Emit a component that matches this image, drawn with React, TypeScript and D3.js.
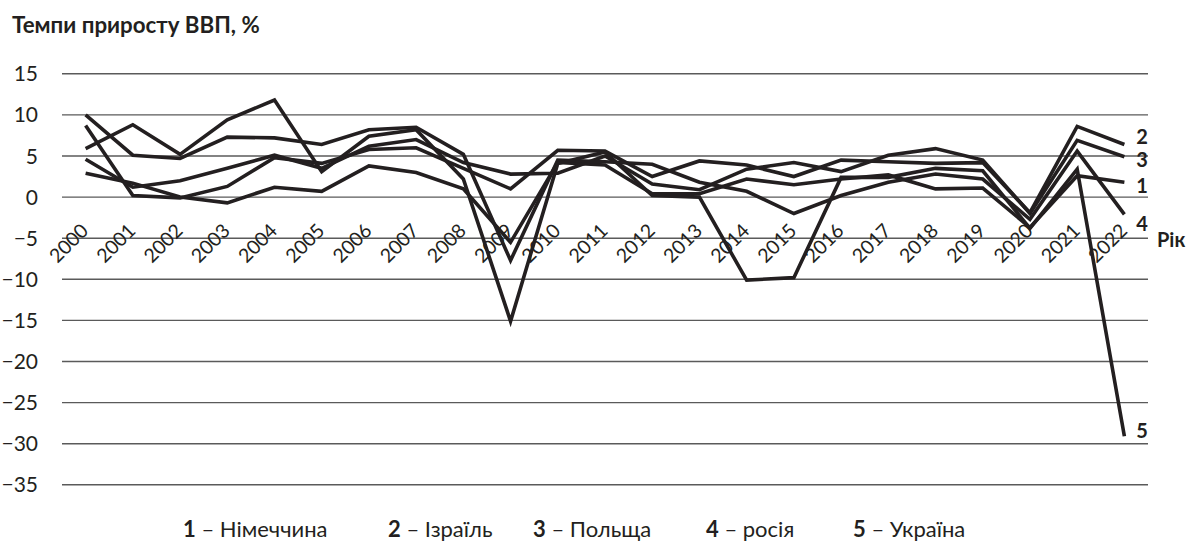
import React from "react";
import * as d3 from "d3";

const years = ["2000","2001","2002","2003","2004","2005","2006","2007","2008","2009","2010","2011","2012","2013","2014","2015","2016","2017","2018","2019","2020","2021","2022"];
const germany = [2.9,1.7,0.0,-0.7,1.2,0.7,3.8,3.0,1.0,-5.5,4.2,3.9,0.4,0.4,2.2,1.5,2.2,2.7,1.0,1.1,-3.7,2.6,1.8];
const israel = [8.7,0.2,-0.1,1.3,4.8,4.1,5.8,6.0,3.5,1.0,5.7,5.6,2.5,4.4,3.9,2.5,4.5,4.3,4.1,4.2,-1.9,8.6,6.4];
const poland = [4.6,1.2,2.0,3.5,5.1,3.5,6.2,7.0,4.2,2.8,2.9,5.0,1.6,0.9,3.4,4.2,3.1,5.1,5.9,4.5,-2.0,6.9,4.9];
const russia = [10.0,5.1,4.7,7.3,7.2,6.4,8.2,8.5,5.2,-7.7,4.5,4.3,4.0,1.8,0.7,-2.0,0.2,1.8,2.8,2.2,-2.7,5.6,-2.1];
const ukraine = [5.9,8.8,5.2,9.4,11.8,3.1,7.4,8.2,2.2,-15.1,4.1,5.5,0.2,0.0,-10.1,-9.8,2.4,2.4,3.5,3.2,-3.8,3.4,-29.1];
const yTicks = [15,10,5,0,-5,-10,-15,-20,-25,-30,-35];
const seriesNums = ["1","2","3","4","5"];
const seriesNames = ["Німеччина","Ізраїль","Польща","росія","Україна"];
const title = "Темпи приросту ВВП, %";
const xAxisTitle = "Рік";

const W = 1188, H = 546;
const FONT = "Lato, 'Noto Sans', sans-serif";
const INK = "#231f20";

export default function App() {
  const series = [germany, israel, poland, russia, ukraine];
  const x = d3.scalePoint<string>().domain(years).range([62, 1148]).padding(0.5);
  const y = d3.scaleLinear().domain([-35, 15]).range([484.8, 73.8]);
  const line = d3.line<number>().x((_, i) => x(years[i]) as number).y((d) => y(d));
  const labelDy = [3, -8, 3, 9, -6];
  const legendX = [183, 388, 533, 706, 853];
  return (
    <svg width={W} height={H} style={{ position: "absolute", left: 0, top: 0, background: "#fff" }} fontFamily={FONT}>
      <text x={12} y={33} fontSize={22.3} fontWeight={700} fill={INK}>{title}</text>
      {yTicks.map((t) => (
        <g key={t}>
          <line x1={62} x2={1148} y1={y(t)} y2={y(t)} stroke="#5a5a5a" strokeWidth={1.4} />
          <text x={38} y={y(t)} dy="0.36em" textAnchor="end" fontSize={21} fill={INK}>
            {t < 0 ? "\u2212" + Math.abs(t) : String(t)}
          </text>
        </g>
      ))}
      {years.map((yr) => {
        const cx = (x(yr) as number) + 4;
        const cy = 232;
        return (
          <text key={yr} x={cx} y={cy} textAnchor="end" fontSize={19.5} fill={INK} transform={`rotate(-45 ${cx} ${cy})`}>
            {yr}
          </text>
        );
      })}
      {series.map((s, i) => (
        <path key={i} d={line(s) || ""} fill="none" stroke={INK} strokeWidth={3.6} strokeLinejoin="miter" strokeMiterlimit={6} />
      ))}
      {series.map((s, i) => (
        <text key={i} x={1142} y={y(s[s.length - 1]) + labelDy[i]} textAnchor="middle" fontSize={20} fontWeight={700} fill={INK} dy="0.36em">
          {seriesNums[i]}
        </text>
      ))}
      <text x={1157} y={y(-5) + 2} dy="0.36em" fontSize={20} fontWeight={700} fill={INK}>{xAxisTitle}</text>
      {seriesNames.map((n, i) => (
        <text key={n} x={legendX[i]} y={537} fontSize={22} fill={INK}>
          <tspan fontWeight={700}>{seriesNums[i]}</tspan>
          <tspan> – {n}</tspan>
        </text>
      ))}
    </svg>
  );
}
